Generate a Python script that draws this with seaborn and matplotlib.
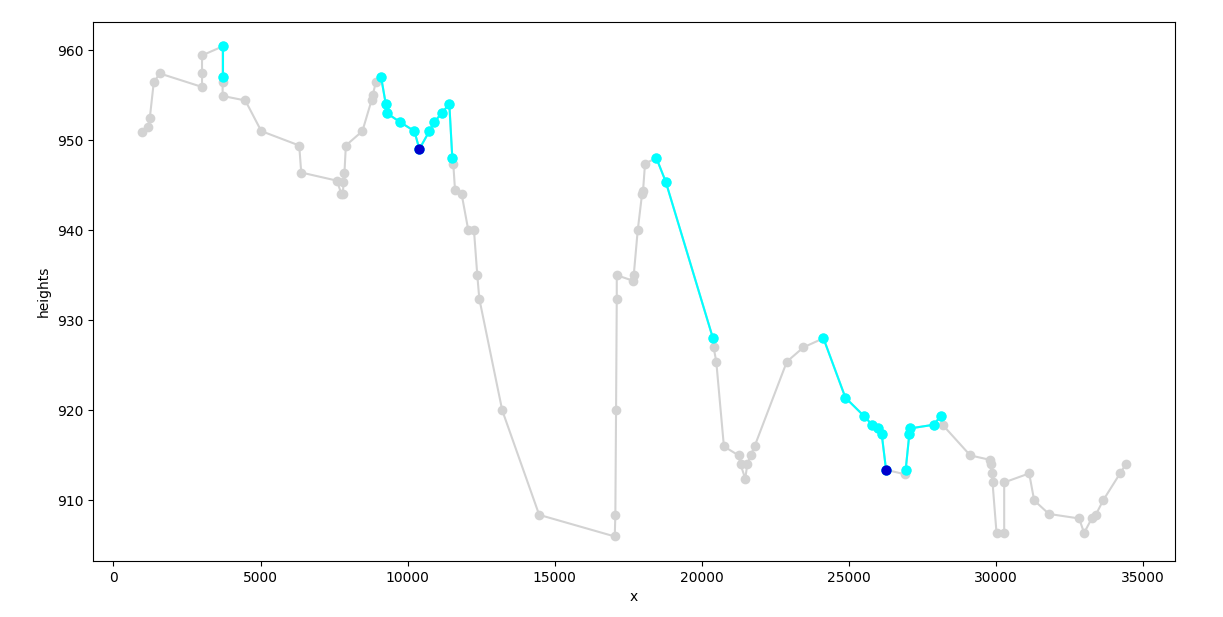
import matplotlib
matplotlib.use('Agg')
import matplotlib.pyplot as plt
import seaborn as sns

# full track (gray)
track_x = [974, 1165, 1233, 1369, 1573, 3010, 3010, 3010, 3710, 3710, 3710, 3710,
           4481, 5024, 6314, 6382, 7593, 7750, 7800, 7818, 7852, 7899, 8462, 8780,
           8812, 8917, 9097, 9256, 9290, 9742, 10228, 10398, 10738, 10908, 11157,
           11416, 11518, 11550, 11609, 11835, 12061, 12254, 12367, 12435, 13215,
           14471, 17040, 17060, 17084, 17108, 17108, 17651, 17685, 17821, 17967,
           18002, 18069, 18455, 18771, 20378, 20400, 20491, 20750, 21249, 21317,
           21476, 21544, 21656, 21792, 22889, 23455, 24134, 24881, 25503, 25787,
           25977, 26113, 26262, 26907, 26929, 27054, 27088, 27879, 28129, 28183,
           29124, 29803, 29827, 29847, 29881, 30017, 30278, 30278, 31127, 31297,
           31800, 32824, 32994, 33254, 33390, 33640, 34216, 34410]
track_h = [950.9, 951.4, 952.4, 956.4, 957.4, 955.9, 957.4, 959.4, 960.4, 957.0, 956.4, 954.9,
           954.4, 951.0, 949.4, 946.4, 945.5, 944.0, 944.0, 945.4, 946.4, 949.4, 951.0, 954.5,
           955.0, 956.4, 957.0, 954.0, 953.0, 952.0, 951.0, 949.0, 951.0, 952.0, 953.0,
           954.0, 948.0, 947.4, 944.5, 944.0, 940.0, 940.0, 935.0, 932.4, 920.0,
           908.4, 906.0, 908.4, 920.0, 932.4, 935.0, 934.4, 935.0, 940.0, 944.0,
           944.4, 947.4, 948.0, 945.4, 928.0, 927.0, 925.4, 916.0, 915.0, 914.0,
           912.4, 914.0, 915.0, 916.0, 925.4, 927.0, 928.0, 921.4, 919.4, 918.4,
           918.0, 917.4, 913.4, 912.9, 913.4, 917.4, 918.0, 918.4, 919.4, 918.4,
           915.0, 914.5, 914.0, 913.0, 912.0, 906.4, 906.4, 912.0, 913.0, 910.0,
           908.5, 908.0, 906.4, 908.0, 908.4, 910.0, 913.0, 914.0]

# highlighted segments (cyan)
seg1_x = [3710, 3710]
seg1_h = [960.4, 957.0]
seg2_x = [9097, 9256, 9290, 9742, 10228, 10398, 10738, 10908, 11157, 11416, 11518]
seg2_h = [957.0, 954.0, 953.0, 952.0, 951.0, 949.0, 951.0, 952.0, 953.0, 954.0, 948.0]
seg3_x = [18455, 18771, 20378]
seg3_h = [948.0, 945.4, 928.0]
seg4_x = [24134, 24881, 25503, 25787, 25977, 26113, 26262]
seg4_h = [928.0, 921.4, 919.4, 918.4, 918.0, 917.4, 913.4]
seg5_x = [26929, 27054, 27088, 27879, 28129]
seg5_h = [913.4, 917.4, 918.0, 918.4, 919.4]

# low points (blue)
low_x = [10398, 26262]
low_h = [949.0, 913.4]

fig, ax = plt.subplots(figsize=(12.23, 6.17), dpi=100)
fig.subplots_adjust(left=0.076, right=0.9607, top=0.9645, bottom=0.0908)

sns.lineplot(x=track_x, y=track_h, sort=False, estimator=None, color='lightgray',
             marker='o', markersize=7, markeredgewidth=0, linewidth=1.5, ax=ax)

for sx, sh in [(seg1_x, seg1_h), (seg2_x, seg2_h), (seg3_x, seg3_h),
               (seg4_x, seg4_h), (seg5_x, seg5_h)]:
    sns.lineplot(x=sx, y=sh, sort=False, estimator=None, color='cyan',
                 marker='o', markersize=7.5, markeredgewidth=0, linewidth=1.5, ax=ax)

sns.scatterplot(x=low_x, y=low_h, color='mediumblue', s=55, linewidth=0, zorder=5, ax=ax)

ax.set_xlabel('x')
ax.set_ylabel('heights')

plt.savefig('out.png', dpi=100)
